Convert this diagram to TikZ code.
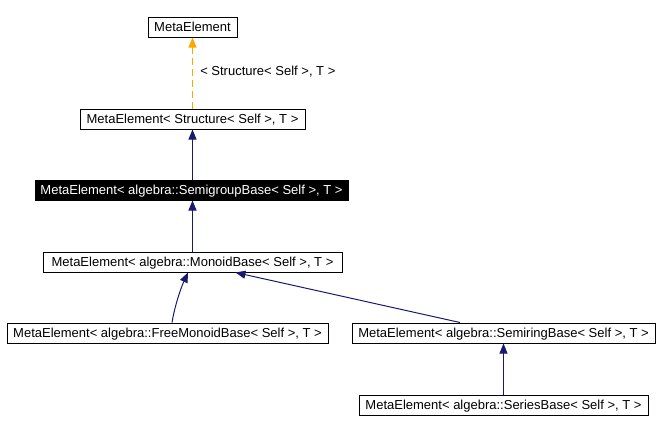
\documentclass[tikz,border=0pt]{standalone}
\usepackage{fontspec}
\setmainfont{Liberation Sans}
\usetikzlibrary{arrows.meta,calc}

\tikzset{
  classbox/.style={draw=black, line width=0.75pt, fill=white, inner sep=0pt, minimum height=15pt, text height=7pt, text depth=1pt, font=\fontsize{9.75}{11}\selectfont},
  inherit/.style={draw={rgb,255:red,25;green,25;blue,112}, line width=0.75pt, -{Triangle[length=7.5pt,width=6pt]}},
  tmpl/.style={draw={rgb,255:red,255;green,165;blue,0}, line width=0.75pt, dash pattern=on 5.25pt off 3pt, -{Triangle[length=7.5pt,width=6pt]}}
}

\begin{document}
\begin{tikzpicture}[x=0.75pt,y=0.75pt,yscale=-1,xscale=1]
	\useasboundingbox (0,0) rectangle (660,433);

	\draw (192.5,27) node [classbox, minimum width=66.75pt] (meta) {MetaElement};
	\draw (192.5,119) node [classbox, minimum width=168.75pt] (struct) {MetaElement< Structure< Self >, T >};
	\draw (191.5,190) node [classbox, minimum width=234.75pt, fill=black, text=white] (semi) {MetaElement< algebra::SemigroupBase< Self >, T >};
	\draw (192.5,262) node [classbox, minimum width=224.25pt] (monoid) {MetaElement< algebra::MonoidBase< Self >, T >};
	\draw (167.5,333) node [classbox, minimum width=240.75pt] (free) {MetaElement< algebra::FreeMonoidBase< Self >, T >};
	\draw (503.5,333) node [classbox, minimum width=227.25pt] (semiring) {MetaElement< algebra::SemiringBase< Self >, T >};
	\draw (503.5,405) node [classbox, minimum width=216.75pt] (series) {MetaElement< algebra::SeriesBase< Self >, T >};

	\draw [tmpl] (struct.north) -- (meta.south) ;
	\draw (199,72) node [anchor=west][inner sep=0.75pt, font=\fontsize{9.75}{11}\selectfont] (lbl) {< Structure< Self >, T >};
	\draw [inherit] (semi.north -| struct.north) -- (struct.south) ;
	\draw [inherit] (monoid.north) -- (semi.south -| monoid.north) ;
	\draw [inherit] ($(free.north)+(4.5,0)$) .. controls ($(free.north)+(7.5,-18)$) and ($(free.north)+(14,-36)$) .. ($(monoid.south)+(-4.5,0)$) ;
	\draw [inherit] ($(semiring.north)+(-43.5,0)$) -- ($(monoid.south)+(43,0)$) ;
	\draw [inherit] (series.north) -- (semiring.south) ;
	\end{tikzpicture}
\end{document}
